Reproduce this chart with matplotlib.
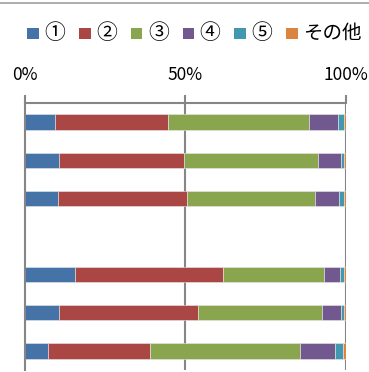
import matplotlib
matplotlib.use("Agg")
import matplotlib.pyplot as plt
from matplotlib.lines import Line2D
from matplotlib.patches import Rectangle

plt.rcParams['font.family'] = ['Noto Sans CJK JP', 'DejaVu Sans']

labels = ["①", "②", "③", "④", "⑤", "その他"]
colors = ["#4572A7", "#AA4643", "#89A54E", "#71588F", "#4198AF", "#DB843D"]

# one row per group; the 4th row is left empty as a separator
s1 = [9.3, 10.5, 10.1, 0, 15.4, 10.6, 7.2]
s2 = [35.3, 39.0, 40.4, 0, 46.3, 43.4, 31.7]
s3 = [44.0, 42.0, 40.0, 0, 31.5, 38.5, 46.9]
s4 = [9.1, 6.9, 7.5, 0, 5.1, 6.1, 11.0]
s5 = [1.9, 1.2, 1.5, 0, 1.2, 0.9, 2.5]
s6 = [0.4, 0.4, 0.5, 0, 0.5, 0.5, 0.7]
series = [s1, s2, s3, s4, s5, s6]

W, H = 369, 372
fig = plt.figure(figsize=(W / 100, H / 100), dpi=100)
ax = fig.add_axes([25.3 / W, 2 / H, 320.4 / W, 267 / H])

rows = list(range(len(s1)))
left = [0] * len(s1)
for vals, c in zip(series, colors):
    ax.barh(rows, vals, left=left, height=0.4, color=c,
            edgecolor="#e8e8e8", linewidth=0.4, zorder=2)
    left = [a + b for a, b in zip(left, vals)]

ax.set_xlim(0, 100)
ax.set_ylim(6.5, -0.5)
ax.xaxis.tick_top()
ax.set_xticks([0, 50, 100])
ax.set_xticklabels(["0%", "50%", "100%"], fontsize=12.5)
ax.tick_params(axis="x", direction="out", length=6, width=1.5,
               color="#868686", pad=8)
ax.set_yticks([])
for x in [50, 100]:
    ax.axvline(x, color="#868686", linewidth=1.5, zorder=1)
for side in ["bottom", "right"]:
    ax.spines[side].set_visible(False)
for side in ["top", "left"]:
    ax.spines[side].set_color("#868686")
    ax.spines[side].set_linewidth(1.5)

# legend row, laid out by hand in pixel steps
for i, (lab, c) in enumerate(zip(labels, colors)):
    x = 27.3 + i * 51.75
    fig.add_artist(Rectangle((x / W, 1 - 38.5 / H), 11.5 / W, 11 / H,
                             facecolor=c, edgecolor="none",
                             transform=fig.transFigure))
    size = 14 if lab == "その他" else 15
    fig.text((x + 17) / W, 1 - 33 / H, lab, fontsize=size,
             ha="left", va="center")

fig.add_artist(Line2D([0, 1], [1 - 2.5 / H, 1 - 2.5 / H],
                      color="#a0a0a0", linewidth=1.2,
                      transform=fig.transFigure))

fig.savefig("out.png", dpi=100)
